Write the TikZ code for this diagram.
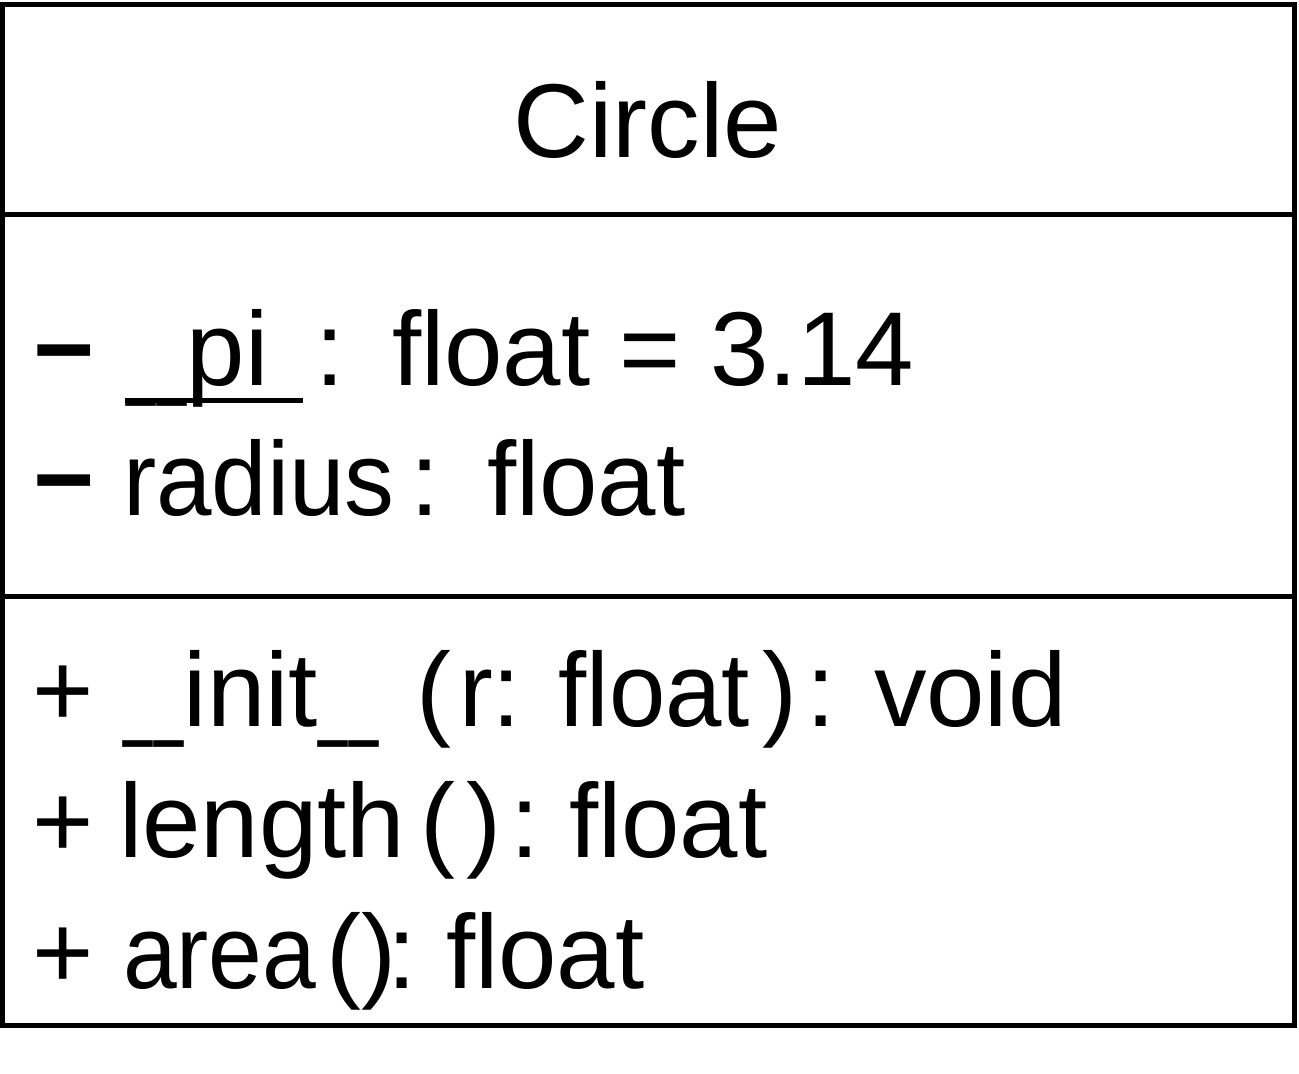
\documentclass[tikz,border=0pt]{standalone}
\usepackage{fontspec}
\setmainfont{Liberation Sans}
\usepackage{graphicx}
\newcommand\usc{\scalebox{0.5}[1]{\_}}
\newcommand\uscs{\usc\kern2.5pt\usc}
\newcommand\narrow[2]{\scalebox{#1}[1]{#2}}
\begin{document}
\begin{tikzpicture}[x=1pt,y=-1pt,
  frame/.style={draw=black,line width=5pt},
  txt/.style={anchor=base west,inner sep=0pt,outer sep=0pt,font=\fontsize{105}{120}\selectfont},
  title/.style={anchor=base,inner sep=0pt,outer sep=0pt,font=\fontsize{105}{120}\selectfont},
  uline/.style={draw=black,line width=5pt}]
\useasboundingbox (0,0) rectangle (1299,1074);
% class box and compartments
\draw[frame] (2.5,4.5) rectangle (1294,1025);
\coordinate (d1l) at (2.5,214.5);
\coordinate (d1r) at (1294,214.5);
\coordinate (d2l) at (2.5,596);
\coordinate (d2r) at (1294,596);
\draw[frame] (d1l) -- (d1r);
\draw[frame] (d2l) -- (d2r);
% name
\node[title] (name) at (648,157) {Circle};
% attributes
\node[txt] (a1m) at (34,385) {\textbf{−}};
\node[txt] (a1n) at (126,385) {\uscs pi};
\node[txt] (a1c) at (315,385) {:};
\node[txt] (a1t) at (392,385) {float = 3.14};
\coordinate (ul1) at (125,400.5);
\coordinate (ul2) at (303,400.5);
\draw[uline] (ul1) -- (ul2);
\node[txt] (a2m) at (34,515) {\textbf{−}};
\node[txt] (a2n) at (123,515) {\narrow{0.95}{radius}};
\node[txt] (a2c) at (410,515) {:};
\node[txt] (a2t) at (487,515) {float};
% operations
\node[txt] (m1p) at (32,726) {+};
\node[txt] (m1n) at (123,726) {\uscs init\uscs};
\node[txt] (m1o) at (416,726) {(};
\node[txt] (m1a) at (459,726) {\narrow{0.965}{r: float}};
\node[txt] (m1e) at (762,726) {)};
\node[txt] (m1t) at (806,726) {: void};
\node[txt] (m2p) at (32,857) {+};
\node[txt] (m2n) at (119,857) {length};
\node[txt] (m2o) at (420,857) {(};
\node[txt] (m2e) at (466,857) {)};
\node[txt] (m2c) at (510,857) {:};
\node[txt] (m2t) at (569,857) {float};
\node[txt] (m3p) at (32,988) {+};
\node[txt] (m3n) at (123,988) {\narrow{0.92}{area}};
\node[txt] (m3o) at (326,988) {(};
\node[txt] (m3e) at (361,988) {)};
\node[txt] (m3c) at (387,988) {:};
\node[txt] (m3t) at (446,988) {float};
\end{tikzpicture}
\end{document}
